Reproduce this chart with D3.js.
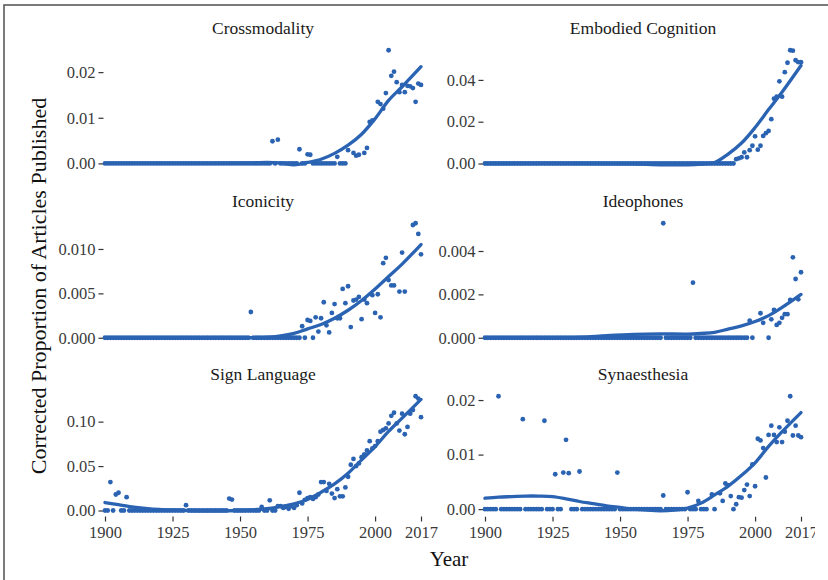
<!DOCTYPE html>
<html><head><meta charset="utf-8">
<script src="https://cdn.jsdelivr.net/npm/d3@7"></script>
<style>body{margin:0;background:#fff}svg{display:block}</style>
</head><body><svg id="c" width="828" height="580"></svg>
<script>
// ---------------- DATA ----------------
const panelNames = ["Crossmodality","Embodied Cognition","Iconicity","Ideophones","Sign Language","Synaesthesia"];
const xTickValues = [1900,1925,1950,1975,2000,2017];
const xTickLabels = ["1900","1925","1950","1975","2000","2017"];
const yAxisTitle = "Corrected Proportion of Articles Published";
const xAxisTitle = "Year";

// Crossmodality
const crossYears  = [1962,1964,1972,1975,1976,1986,1990,1992,1993,1994,1996,1997,1998,1999,2001,2002,2003,2004,2005,2006,2007,2008,2009,2010,2011,2012,2013,2014,2015,2016,2017];
const crossValues = [0.00485,0.0052,0.0031,0.0020,0.0019,0.00145,0.0029,0.0023,0.0017,0.0019,0.0023,0.0034,0.0091,0.0094,0.0135,0.0130,0.0120,0.0154,0.0248,0.0192,0.0201,0.0178,0.0156,0.0172,0.0156,0.0170,0.0169,0.0165,0.0135,0.0175,0.0172];
const crossZeroRange = [1900,1989];
const crossSmoothYears  = [1900,1920,1940,1950,1955,1960,1965,1970,1975,1980,1985,1990,1995,2000,2005,2010,2017];
const crossSmoothValues = [0,0,0,0.00005,0.0001,0.0002,0.0001,-0.0003,0.0002,0.0009,0.0022,0.0040,0.0064,0.0098,0.0138,0.0168,0.0212];
const crossTicks = [0,0.01,0.02];
const crossTickLabels = ["0.00","0.01","0.02"];

// Embodied Cognition
const embYears  = [1993,1994,1995,1996,1997,1998,1999,2000,2001,2002,2003,2004,2005,2006,2007,2008,2009,2010,2011,2012,2013,2014,2015,2016,2017];
const embValues = [0.0021,0.0025,0.0030,0.0053,0.0030,0.0064,0.0085,0.0130,0.0066,0.0085,0.0132,0.0145,0.0156,0.0212,0.0310,0.0320,0.0393,0.0320,0.0437,0.0482,0.0542,0.0540,0.0494,0.0485,0.0485];
const embZeroRange = [1900,1992];
const embSmoothYears  = [1900,1940,1955,1965,1975,1980,1985,1990,1995,2000,2005,2010,2017];
const embSmoothValues = [0,0,-0.0002,-0.0006,-0.0006,-0.0003,0.0005,0.0045,0.0098,0.0172,0.0258,0.0342,0.0469];
const embTicks = [0,0.02,0.04];
const embTickLabels = ["0.00","0.02","0.04"];

// Iconicity
const iconYears  = [1954,1973,1974,1975,1976,1977,1978,1979,1980,1981,1982,1983,1984,1985,1986,1987,1988,1989,1990,1991,1992,1993,1994,1995,1996,1997,1999,2000,2001,2002,2003,2004,2005,2006,2007,2009,2010,2011,2014,2015,2016,2017];
const iconValues = [0.0029,0.0013,0,0.0020,0.0019,0,0.0023,0.0007,0.0022,0.0040,0.0014,0.0006,0.0028,0.0038,0.0022,0.0022,0.0055,0.0039,0.0058,0.0012,0.0042,0.0043,0.0046,0.0021,0.0043,0.0039,0.0048,0.0028,0.0049,0.0023,0.0084,0.0090,0.0065,0.0059,0.0059,0.0052,0.0096,0.0052,0.0127,0.0129,0.0117,0.0094];
const iconZeroRange = [1900,1972];
const iconSmoothYears  = [1900,1940,1955,1960,1965,1970,1975,1980,1985,1990,1995,2000,2005,2010,2017];
const iconSmoothValues = [0,0,0,0.00003,0.0002,0.0005,0.0010,0.0015,0.0022,0.0031,0.0042,0.0055,0.0069,0.0083,0.0105];
const iconTicks = [0,0.005,0.010];
const iconTickLabels = ["0.000","0.005","0.010"];

// Ideophones
const ideoYears  = [1966,1977,1998,1999,2002,2003,2005,2006,2007,2008,2009,2010,2011,2012,2013,2014,2015,2016,2017];
const ideoValues = [0.00528,0.00254,0.00079,0,0.00113,0.00069,0,0.00085,0.00128,0.00059,0.00069,0.00092,0.00109,0.00109,0.00174,0.00371,0.00271,0.00177,0.00302];
const ideoZeroRange = [1900,1997];
const ideoSmoothYears  = [1900,1920,1935,1945,1955,1965,1975,1980,1985,1990,1995,2000,2005,2010,2017];
const ideoSmoothValues = [0,0,0.00002,0.0001,0.00016,0.00018,0.00017,0.0002,0.00025,0.0004,0.00055,0.00075,0.00102,0.0014,0.0020];
const ideoTicks = [0,0.002,0.004];
const ideoTickLabels = ["0.000","0.002","0.004"];

// Sign Language
const signYears  = [1902,1904,1905,1908,1930,1946,1947,1958,1961,1964,1965,1966,1967,1968,1969,1970,1971,1972,1973,1974,1975,1976,1977,1978,1979,1980,1981,1982,1983,1984,1985,1986,1987,1988,1989,1990,1991,1992,1993,1994,1995,1996,1997,1998,1999,2000,2001,2002,2003,2004,2005,2006,2007,2008,2009,2010,2011,2012,2013,2014,2015,2016,2017];
const signValues = [0.032,0.018,0.020,0.015,0.006,0.0134,0.0123,0.004,0.0115,0.005,0.005,0.003,0.004,0.002,0.005,0.003,0.006,0.020,0.008,0.012,0.014,0.015,0.013,0.015,0.018,0.032,0.032,0.022,0.030,0.019,0.014,0.024,0.016,0.016,0.026,0.038,0.0515,0.058,0.050,0.053,0.060,0.063,0.0675,0.078,0.070,0.0725,0.078,0.0887,0.0906,0.0925,0.098,0.1066,0.110,0.098,0.090,0.109,0.0858,0.094,0.109,0.113,0.1286,0.126,0.105];
const signZeroRange = [1900,1969];
const signSmoothYears  = [1900,1905,1910,1915,1920,1925,1930,1940,1950,1955,1960,1965,1970,1975,1980,1985,1990,1995,2000,2005,2010,2017];
const signSmoothValues = [0.009,0.0065,0.0042,0.0025,0.0012,0.0004,0,-0.0003,0,0.0008,0.0022,0.0045,0.0075,0.0125,0.0205,0.030,0.042,0.057,0.072,0.089,0.104,0.125];
const signTicks = [0,0.05,0.10];
const signTickLabels = ["0.00","0.05","0.10"];

// Synaesthesia
const synYears  = [1905,1914,1922,1926,1929,1930,1931,1935,1949,1966,1975,1979,1984,1985,1987,1988,1989,1990,1991,1992,1993,1994,1995,1996,1997,1998,1999,2000,2001,2002,2003,2004,2005,2006,2007,2008,2009,2010,2011,2012,2013,2014,2015,2016,2017];
const synValues = [0.0207,0.0165,0.0162,0.0064,0.0067,0.0127,0.0066,0.0069,0.0067,0.0025,0.0031,0.0015,0.0027,0,0.0029,0.0015,0.0047,0.0044,0.0024,0,0.0009,0.0022,0.0021,0.0035,0.0045,0.0024,0.0082,0.0042,0.0129,0.0126,0.0112,0.0058,0.0136,0.0153,0.0136,0.0123,0.0150,0.0123,0.0142,0.0162,0.0207,0.0135,0.0153,0.0135,0.0132];
const synZeroRange = [1900,1982];
const synSmoothYears  = [1900,1905,1910,1915,1920,1925,1930,1935,1940,1945,1950,1955,1960,1965,1970,1975,1980,1985,1990,1995,2000,2005,2010,2017];
const synSmoothValues = [0.0020,0.0022,0.0023,0.0024,0.0024,0.0023,0.0019,0.0014,0.0010,0.0006,0.0003,0,-0.0002,-0.0003,-0.0002,0.0002,0.0011,0.0026,0.0042,0.0062,0.0085,0.0115,0.0142,0.0177];
const synTicks = [0,0.01,0.02];
const synTickLabels = ["0.00","0.01","0.02"];

// ---------------- DRAW ----------------
const panels = [
  {years:crossYears, values:crossValues, zero:crossZeroRange, sy:crossSmoothYears, sv:crossSmoothValues, ticks:crossTicks, labels:crossTickLabels},
  {years:embYears, values:embValues, zero:embZeroRange, sy:embSmoothYears, sv:embSmoothValues, ticks:embTicks, labels:embTickLabels},
  {years:iconYears, values:iconValues, zero:iconZeroRange, sy:iconSmoothYears, sv:iconSmoothValues, ticks:iconTicks, labels:iconTickLabels},
  {years:ideoYears, values:ideoValues, zero:ideoZeroRange, sy:ideoSmoothYears, sv:ideoSmoothValues, ticks:ideoTicks, labels:ideoTickLabels},
  {years:signYears, values:signValues, zero:signZeroRange, sy:signSmoothYears, sv:signSmoothValues, ticks:signTicks, labels:signTickLabels},
  {years:synYears, values:synValues, zero:synZeroRange, sy:synSmoothYears, sv:synSmoothValues, ticks:synTicks, labels:synTickLabels}
];

const FONT = "'Liberation Serif','Times New Roman',serif";
const BLUE = "#2b63b3";
const svg = d3.select("#c");
svg.append("rect").attr("width",828).attr("height",580).attr("fill","#fff");
svg.append("rect").attr("x",4).attr("y",5).attr("width",900).attr("height",700)
  .attr("fill","none").attr("stroke","#5a5a5a").attr("stroke-width",1.6);

// the reference figure is cut off at its right edge
svg.append("defs").append("clipPath").attr("id","rightcut")
  .append("rect").attr("x",0).attr("y",0).attr("width",815).attr("height",580);

const panelH = 126;
const rowTop = r => 44.5 + r*173;
const colRange = [[105,421],[485,801]];

panels.forEach((p,i) => {
  const col = i%2, row = Math.floor(i/2);
  const top = rowTop(row), bottom = top + panelH;
  const x = d3.scaleLinear().domain([1900,2017]).range(colRange[col]);
  const listed = new Set(p.years);
  const zeros = d3.range(p.zero[0], p.zero[1]+1).filter(yr => !listed.has(yr));
  const pts = zeros.map(yr => [yr,0]).concat(p.years.map((yr,k) => [yr,p.values[k]]));
  const allV = pts.map(d => d[1]).concat(p.sv);
  const [mn,mx] = d3.extent(allV);
  const pad = (mx-mn)*0.05;
  const y = d3.scaleLinear().domain([mn-pad, mx+pad]).range([bottom, top]);
  const g = svg.append("g");

  // strip title
  g.append("text").attr("x",(colRange[col][0]+colRange[col][1])/2).attr("y",top-10.5)
    .attr("text-anchor","middle").attr("font-family",FONT).attr("font-size",17.5)
    .attr("fill","#1a1a1a").text(panelNames[i]);

  // y axis
  const ya = g.append("g").attr("transform",`translate(${colRange[col][0]-1.5},0)`)
    .call(d3.axisLeft(y).tickValues(p.ticks).tickSize(5).tickPadding(3)
      .tickFormat((d,k) => p.labels[k]));
  ya.select(".domain").remove();
  ya.selectAll("line").attr("stroke","#333").attr("stroke-width",1.2);
  ya.selectAll("text").attr("font-family",FONT).attr("font-size",16.5).attr("fill","#3a3a3a");

  if (row === 2) {
    const xa = g.append("g").attr("transform",`translate(0,${bottom})`)
      .attr("clip-path", col === 1 ? "url(#rightcut)" : null)
      .call(d3.axisBottom(x).tickValues(xTickValues).tickSize(5).tickPadding(5)
        .tickFormat((d,k) => xTickLabels[k]));
    xa.select(".domain").remove();
    xa.selectAll("line").attr("stroke","#333").attr("stroke-width",1.2);
    xa.selectAll("text").attr("font-family",FONT).attr("font-size",16.5).attr("fill","#3a3a3a");
  }

  // points
  g.append("g").selectAll("circle").data(pts).join("circle")
    .attr("cx",d => x(d[0])).attr("cy",d => y(d[1])).attr("r",2.4).attr("fill",BLUE);

  // smooth
  const line = d3.line().x(d => x(d[0])).y(d => y(d[1])).curve(d3.curveCatmullRom.alpha(0.5));
  g.append("path").datum(p.sy.map((yr,k) => [yr,p.sv[k]])).attr("d",line)
    .attr("fill","none").attr("stroke",BLUE).attr("stroke-width",3.3).attr("stroke-linecap","round");
});

// axis titles
svg.append("text").attr("transform","translate(46,286) rotate(-90)")
  .attr("text-anchor","middle").attr("font-family",FONT).attr("font-size",22).attr("fill","#111")
  .text(yAxisTitle);
svg.append("text").attr("x",449).attr("y",566)
  .attr("text-anchor","middle").attr("font-family",FONT).attr("font-size",21).attr("fill","#111")
  .text(xAxisTitle);
</script>
</body></html>
